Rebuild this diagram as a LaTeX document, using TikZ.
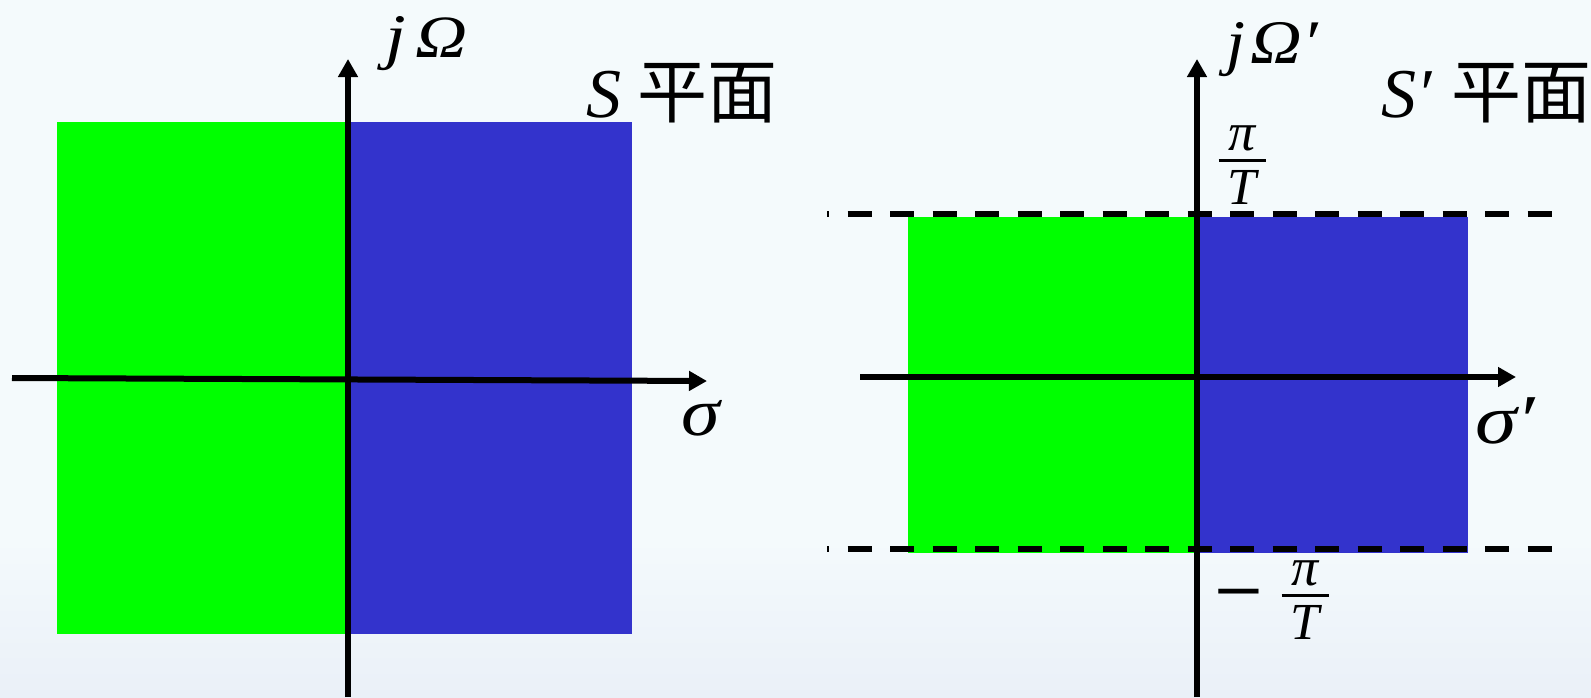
\documentclass[tikz,border=0pt]{standalone}
\usepackage{fontspec}
\setmainfont{Liberation Serif}
\newfontfamily\cjk{Noto Sans CJK SC}
\usepackage{graphicx}
\usetikzlibrary{arrows.meta}
\definecolor{bgtop}{RGB}{244,250,252}
\definecolor{bgbot}{RGB}{234,240,248}
\definecolor{planegreen}{RGB}{0,255,0}
\definecolor{planeblue}{RGB}{51,51,204}
\newcommand\fracbox[2]{\vbox{\hbox to 23.5pt{\hfil\fontsize{27}{27}\selectfont\itshape #1\hfil}\kern4pt\hrule height 1.5pt\kern4.25pt\hbox to 23.5pt{\hfil\fontsize{26}{26}\selectfont\itshape #2\hfil}}}
\begin{document}
\begin{tikzpicture}[x=0.5pt,y=-0.5pt,
  axis/.style={line width=3pt,-{Triangle[length=9pt,width=9.5pt]}},
  boundary/.style={line width=3pt,dash pattern=on 12pt off 9.25pt,dash phase=11pt},
  txt/.style={inner sep=0pt,outer sep=0pt},
  big/.style={txt,font=\fontsize{35}{35}\selectfont}]
\useasboundingbox (0,0) rectangle (1591,697);
\fill[bgtop] (0,0) rectangle (1591,697);
\shade[top color=bgtop,bottom color=bgbot] (0,540) rectangle (1591,697);
% left plane regions
\fill[planegreen] (57,122) rectangle (348,634);
\fill[planeblue] (348,122) rectangle (632,634);
% right plane regions
\fill[planegreen] (908,217) rectangle (1197,553);
\fill[planeblue] (1197,217) rectangle (1468,553);
% dashed boundaries
\coordinate (ut0) at (827,214); \coordinate (ut1) at (1553,214);
\coordinate (lt0) at (827,549); \coordinate (lt1) at (1553,549);
\draw[boundary] (ut0) -- (ut1);
\draw[boundary] (lt0) -- (lt1);
% axes
\coordinate (lv0) at (348,697); \coordinate (lv1) at (348,59);
\coordinate (lh0) at (12,378); \coordinate (lh1) at (707,381);
\coordinate (rv0) at (1197,697); \coordinate (rv1) at (1197,59);
\coordinate (rh0) at (860,377); \coordinate (rh1) at (1516,377);
\draw[axis] (lv0) -- (lv1);
\draw[axis] (lh0) -- (lh1);
\draw[axis] (rv0) -- (rv1);
\draw[axis] (rh0) -- (rh1);
% labels left
\node[txt,anchor=base west] (jw) at (385,57) {\scalebox{1.2}[1]{\fontsize{31}{31}\selectfont\itshape j}\hspace{5pt}\scalebox{1.2}[1]{\fontsize{30}{30}\selectfont\itshape Ω}};
\node[big,anchor=base west] (splane) at (586,117) {{\itshape S}\hspace{8pt}{\cjk 平面}};
\node[txt,anchor=base west] (sig) at (681,435) {\scalebox{1.15}[1]{\fontsize{34}{34}\selectfont\itshape σ}};
% labels right
\node[txt,anchor=base west] (jwp) at (1226,63) {\scalebox{1.1}[1]{\fontsize{31}{31}\selectfont\itshape j}\hspace{3pt}\scalebox{1.15}[1]{\fontsize{31}{31}\selectfont\itshape Ω′}};
\node[big,anchor=base west] (spplane) at (1381,117) {{\itshape S′}\hspace{10pt}{\cjk 平面}};
\node[txt,anchor=base west] (sigp) at (1475,443) {\scalebox{1.2}[1]{\fontsize{35}{35}\selectfont\itshape σ′}};
\node[txt] (ptop) at (1242,165) {\fracbox{π}{T}};
\node[txt,anchor=base] (nminus) at (1239,623) {\scalebox{1.8}[2]{\fontsize{24}{24}\selectfont −}};
\node[txt] (nfrac) at (1305,600) {\fracbox{π}{T}};
\end{tikzpicture}
\end{document}
